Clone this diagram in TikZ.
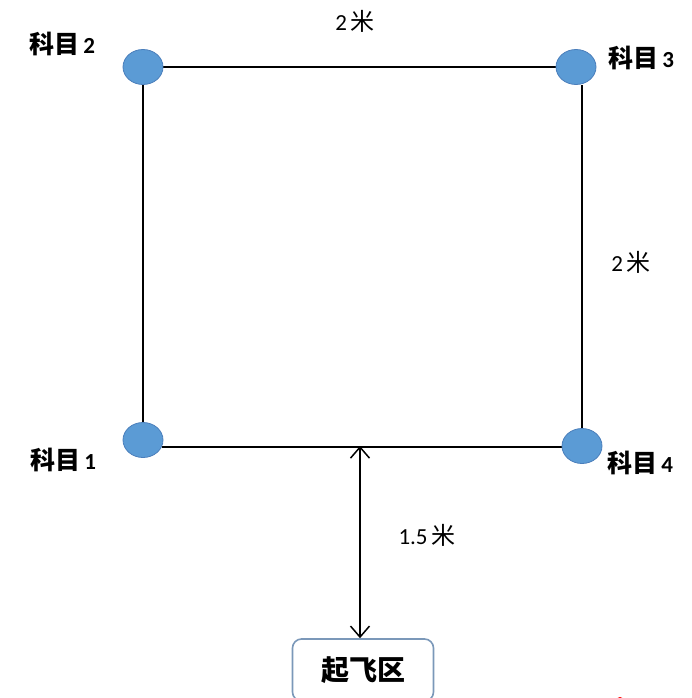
\documentclass[tikz,border=0pt]{standalone}
\usepackage{fontspec}
\setmainfont{Carlito}
\newfontfamily\cjk{Noto Sans CJK SC}
\usepackage{xcolor}
\usetikzlibrary{shapes.geometric, positioning, backgrounds, arrows.meta}
\definecolor{spotfill}{HTML}{5B9BD5}
\definecolor{spotline}{HTML}{4A7EBB}
\definecolor{zoneline}{HTML}{7B98B9}

\begin{document}
\begin{tikzpicture}[x=1pt, y=-1pt]
\tikzstyle{spot}=[ellipse, draw=spotline, fill=spotfill, minimum width=40pt, minimum height=35pt, inner sep=0pt, line width=0.8pt]
\tikzstyle{subject}=[inner sep=0pt, font=\fontsize{25}{28}\selectfont\cjk\bfseries]
\tikzstyle{dist}=[inner sep=0pt, font=\fontsize{23}{26}\selectfont]
\tikzstyle{zone}=[draw=zoneline, line width=1.6pt, rounded corners=9pt, minimum width=141pt, minimum height=62pt, font=\fontsize{28}{32}\selectfont\cjk\bfseries]

\useasboundingbox (0,0) rectangle (691,698);

\node (c1) at (143,440) [spot] {};
\node (c2) at (143,67) [spot] {};
\node (c3) at (576,67) [spot] {};
\node (c4) at (582,446) [spot] {};

\begin{scope}[on background layer]
\draw [line width=1.6pt] (c2) -- (c3);
\draw [line width=1.6pt] (c2) -- (c1);
\draw [line width=1.6pt] (c3.south -| c4) -- (c4);
\draw [line width=1.6pt] (c1.-20) -- (c1.-20 -| c4);
\end{scope}

\node (s1) at (63,460) [subject] {科目\,{\fontsize{23}{26}\selectfont\rmfamily 1}};
\node (s2) at (62,44) [subject] {科目\,{\fontsize{23}{26}\selectfont\rmfamily 2}};
\node (s3) at (641,58) [subject] {科目\,{\fontsize{23}{26}\selectfont\rmfamily 3}};
\node (s4) at (640,463) [subject] {科目\,{\fontsize{23}{26}\selectfont\rmfamily 4}};

\node (d1) at (355,21) [dist] {2\,{\cjk\fontsize{24}{26}\selectfont 米}};
\node (d2) at (631,262) [dist] {2\,{\cjk\fontsize{24}{26}\selectfont 米}};

%% take-off zone below the square
\node (tz) at (363,670) [zone] {起飞区};
\coordinate (mid) at (360,446);
\draw [{Straight Barb[length=11pt,width=19pt]}-{Straight Barb[length=11pt,width=19pt]}, line width=1.5pt] (mid) -- (mid |- tz.north);
\node (d3) at (427,535) [dist] {1.5\,{\cjk\fontsize{24}{26}\selectfont 米}};

\fill [red] (620,701) circle (4);
\end{tikzpicture}
\end{document}
